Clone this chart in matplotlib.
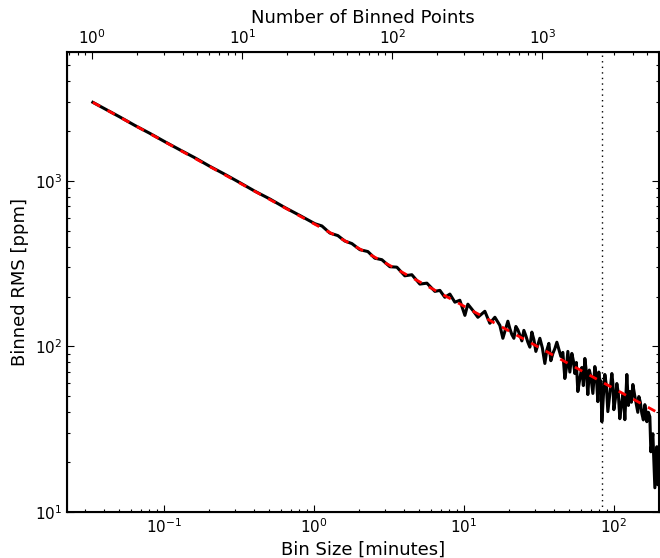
import matplotlib
matplotlib.use('Agg')
import matplotlib.pyplot as plt

plt.rcParams['lines.scale_dashes'] = False
plt.rcParams['axes.unicode_minus'] = False

# light-curve cadence [minutes], sets the top axis (number of points per bin)
cadence = 2.0 / 60.0
# dotted reference bin size [minutes]
marker_bin = 84.0

# binned rms curve
bin_size = [0.0336, 0.0414, 0.0509, 0.0641, 0.0807, 0.1016, 0.128, 0.161,
            0.203, 0.256, 0.321, 0.404, 0.509, 0.640, 0.806, 1.016,
            1.131, 1.278, 1.445, 1.609, 1.792, 2.026, 2.291, 2.55, 2.84,
            3.21, 3.575, 4.04, 4.50, 5.09, 5.67, 6.41, 6.92, 7.47, 8.07,
            8.71, 9.40, 10.16, 10.63, 11.48, 12.40, 13.80, 14.90, 16.10,
            17.38, 18.20, 19.65, 20.26, 20.89, 21.55, 22.22, 22.91, 23.63,
            24.36, 25.12, 25.90, 26.71, 27.54, 28.40, 29.29, 30.20, 31.14,
            32.11, 33.37, 34.67, 35.75, 36.87, 38.02, 39.21, 40.43, 41.69,
            43.0, 44.34, 45.71, 47.13, 48.23, 49.35, 50.89, 52.48, 53.70,
            54.95, 56.23, 57.54, 59.33, 61.18, 62.62, 64.09, 65.57, 67.08,
            68.65, 70.26, 72.45, 74.70, 76.44, 78.22, 79.43, 80.66, 81.91,
            83.18, 85.12, 87.10, 89.13, 91.20, 94.06, 97.0, 98.49, 100.0,
            102.3, 104.7, 107.1, 109.6, 112.2, 114.8, 116.6, 118.4, 120.2,
            122.1, 125.0, 127.9, 130.9, 133.9, 138.0, 142.3, 144.5, 146.8,
            150.2, 153.7, 157.3, 160.9, 163.4, 166.0, 169.9, 173.8, 176.5,
            182.0, 187.7, 193.5, 196.6, 199.5]
rms = [2980, 2690, 2430, 2160, 1935, 1722, 1538, 1378,
       1222, 1093, 975, 866, 777, 690, 618, 551,
       534, 484, 467, 433, 418, 384, 374, 341, 334,
       303, 301, 267, 271, 238, 241, 215, 218, 198, 207,
       185, 190, 154, 180, 165, 150, 163, 138, 150,
       134, 112, 142, 128, 118, 112, 132, 126, 117,
       108, 125, 116, 106, 99, 122, 110, 93.3, 102,
       112, 98, 78.9, 95, 104.3, 82, 90.7, 97, 106,
       96, 87.0, 92, 64.0, 74, 93.3, 70, 90.7, 82,
       68.6, 80, 53.4, 64, 74.6, 58, 84.6, 70, 51.2,
       72, 65.8, 52, 75.6, 66, 46.4, 70, 57.2, 62,
       35.1, 50, 67.7, 58, 40.4, 52, 68.6, 60, 41.5,
       48, 59.7, 52, 36.6, 44, 51.2, 46, 36.1, 50,
       67.7, 44, 53.4, 46, 58.9, 50, 43.3, 40, 49.8,
       46, 39.3, 36, 44.5, 41, 35.1, 40, 37.6, 23.1,
       29.7, 14.0, 24.8, 14.6, 17.5]

# expected white-noise line (end points)
model_bins = [0.0336, 199.5]
model_rms = [2980, 39.5]

xlim = (0.0226, 200)
ylim = (10, 6000)

fig = plt.figure(figsize=(6.6, 5.58), dpi=100)
ax = fig.add_axes([67 / 660, 46 / 558, 592 / 660, 460 / 558])

ax.axvline(marker_bin, color='k', lw=1, dashes=(1, 3), zorder=1)
ax.plot(bin_size, rms, color='k', lw=2.2, zorder=2)
ax.plot(model_bins, model_rms, color='r', lw=2, dashes=(6, 6), zorder=3)

ax.set_xscale('log')
ax.set_yscale('log')
ax.set_xlim(xlim)
ax.set_ylim(ylim)
ax.set_xlabel('Bin Size [minutes]', fontsize=13)
ax.set_ylabel('Binned RMS [ppm]', fontsize=13)
ax.tick_params(which='both', direction='in', top=False, right=True,
               labelsize=11, width=0.8)
ax.tick_params(which='major', length=5)
ax.tick_params(which='minor', length=2.5)
for s in ax.spines.values():
    s.set_linewidth(1.5)

# top axis: number of points per bin
ax2 = ax.twiny()
ax2.set_xscale('log')
ax2.set_xlim(xlim[0] / cadence, xlim[1] / cadence)
ax2.set_xlabel('Number of Binned Points', fontsize=13)
ax2.tick_params(which='both', direction='in', labelsize=11, width=0.8)
ax2.tick_params(which='major', length=5)
ax2.tick_params(which='minor', length=2.5)

fig.savefig('out.png', dpi=100)
